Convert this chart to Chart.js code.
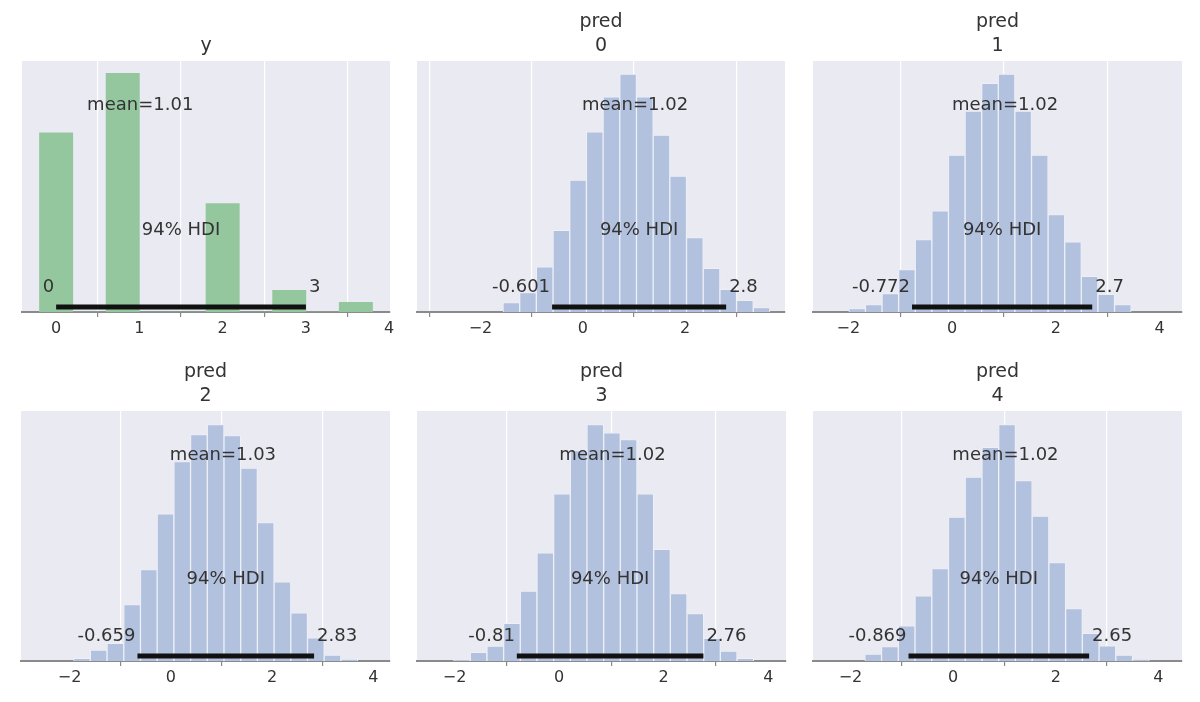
<!DOCTYPE html>
<html lang="en">
<head>
    <meta charset="UTF-8">
    <title>Posterior predictive</title>
    <script src="https://cdn.jsdelivr.net/npm/chart.js@4"></script>
    <style>
        body { margin: 0; background: #ffffff; width: 1200px; height: 702px; position: relative; overflow: hidden; }
        .panel { position: absolute; }
    </style>
</head>
<body>
    <canvas id="c0" class="panel"></canvas>
    <canvas id="c1" class="panel"></canvas>
    <canvas id="c2" class="panel"></canvas>
    <canvas id="c3" class="panel"></canvas>
    <canvas id="c4" class="panel"></canvas>
    <canvas id="c5" class="panel"></canvas>

    <script>
        // histogram heights (arbitrary units, panel top = 752)
        const yCounts     = [537, 0, 715, 0, 0, 325, 0, 65, 0, 29];
        const pred0Counts = [28, 58, 135, 245, 395, 540, 645, 713, 645, 530, 407, 223, 131, 68, 35, 13];
        const pred1Counts = [10, 22, 55, 127, 217, 303, 470, 602, 685, 713, 602, 470, 292, 210, 107, 53, 22];
        const pred2Counts = [8, 33, 53, 170, 275, 443, 600, 681, 711, 678, 580, 416, 238, 145, 70, 18, 5];
        const pred3Counts = [3, 26, 45, 113, 210, 325, 503, 633, 711, 686, 666, 503, 336, 203, 143, 68, 30, 8];
        const pred4Counts = [21, 43, 106, 196, 278, 433, 553, 643, 711, 543, 436, 296, 158, 83, 46, 18, 5];

        // bin start / width
        const binStarts = [-0.2, -1.56, -1.99, -1.92, -2.02, -1.72];
        const binWidths = [0.4, 0.326, 0.32, 0.33, 0.319, 0.326];

        const titles = [['y'], ['pred', '0'], ['pred', '1'], ['pred', '2'], ['pred', '3'], ['pred', '4']];
        const means = [1.01, 1.02, 1.02, 1.03, 1.02, 1.02];
        const hdiLow = [0, -0.601, -0.772, -0.659, -0.81, -0.869];
        const hdiHigh = [3, 2.8, 2.7, 2.83, 2.76, 2.65];
        const hdiLowText = ['0', '-0.601', '-0.772', '-0.659', '-0.81', '-0.869'];
        const hdiHighText = ['3', '2.8', '2.7', '2.83', '2.76', '2.65'];
        const xMins = [-0.41, -3.24, -2.68, -2.96, -2.72, -2.73];
        const xMaxs = [4.01, 3.95, 4.43, 4.33, 4.34, 4.46];
        const yTicks = [0, 1, 2, 3, 4];
        const predTicks = [-2, 0, 2, 4];

        const allCounts = [yCounts, pred0Counts, pred1Counts, pred2Counts, pred3Counts, pred4Counts];

        // panel boxes: plot area left, right, top, bottom
        const boxes = [
            [22, 390, 61, 312], [417, 785, 61, 312], [813, 1182, 61, 312],
            [21, 390, 411, 661], [417, 786, 411, 661], [813, 1182, 411, 661]
        ];

        const FONT = "'DejaVu Sans', Verdana, sans-serif";
        const TXT = '#333333';
        const YMAX = 752;
        const PAD = 20;

        const decor = {
            id: 'decor',
            beforeDraw(chart) {
                const a = chart.chartArea, ctx = chart.ctx;
                ctx.save();
                ctx.fillStyle = '#eaeaf2';
                ctx.fillRect(a.left, a.top, a.right - a.left, a.bottom - a.top);
                ctx.restore();
            },
            afterDatasetsDraw(chart, args, opts) {
                const i = opts.idx, ctx = chart.ctx, a = chart.chartArea;
                const xs = chart.scales.x, ys = chart.scales.y;
                ctx.save();
                ctx.fillStyle = TXT;
                ctx.font = '18px ' + FONT;
                ctx.textBaseline = 'middle';
                ctx.textAlign = 'center';
                ctx.fillText('mean=' + means[i], xs.getPixelForValue(means[i]), ys.getPixelForValue(620));
                ctx.fillText('94% HDI', xs.getPixelForValue((hdiLow[i] + hdiHigh[i]) / 2), ys.getPixelForValue(245));
                ctx.textAlign = 'right';
                ctx.fillText(hdiLowText[i], xs.getPixelForValue(hdiLow[i]) - 2, ys.getPixelForValue(75));
                ctx.textAlign = 'left';
                ctx.fillText(hdiHighText[i], xs.getPixelForValue(hdiHigh[i]) + 3, ys.getPixelForValue(75));
                // titles
                ctx.textAlign = 'center';
                ctx.font = '19px ' + FONT;
                const cx = (a.left + a.right) / 2;
                const t = titles[i];
                if (t.length === 1) {
                    ctx.fillText(t[0], cx, a.top - 15);
                } else {
                    ctx.fillText(t[0], cx, a.top - 39);
                    ctx.fillText(t[1], cx, a.top - 15);
                }
                ctx.restore();
            }
        };

        boxes.forEach((b, i) => {
            const cv = document.getElementById('c' + i);
            const top = i < 3 ? 0 : 350;
            const w = (b[1] - b[0]) + 2 * PAD;
            const h = b[3] - top + 33;
            cv.style.left = (b[0] - PAD) + 'px';
            cv.style.top = top + 'px';
            cv.style.width = w + 'px';
            cv.style.height = h + 'px';
            cv.width = w;
            cv.height = h;

            const counts = allCounts[i];
            const bars = counts.map((c, k) => ({ x: binStarts[i] + binWidths[i] * (k + 0.5), y: c }));
            const green = i === 0;
            const tickList = (i === 0 ? yTicks : predTicks).filter(v => v >= xMins[i] && v <= xMaxs[i]);

            new Chart(cv.getContext('2d'), {
                data: {
                    datasets: [
                        {
                            type: 'line',
                            data: [{ x: hdiLow[i], y: 15 }, { x: hdiHigh[i], y: 15 }],
                            borderColor: '#111111',
                            borderWidth: 5,
                            pointRadius: 0,
                            order: 0
                        },
                        {
                            type: 'bar',
                            data: bars,
                            backgroundColor: green ? '#95c79f' : '#b2c1de',
                            borderColor: green ? 'rgba(0,0,0,0)' : '#eef0f7',
                            borderWidth: green ? 0 : 1,
                            barPercentage: 1,
                            categoryPercentage: 1,
                            grouped: false,
                            order: 1
                        }
                    ]
                },
                options: {
                    responsive: false,
                    animation: false,
                    devicePixelRatio: 1,
                    layout: { padding: { top: b[2] - top, left: PAD, right: PAD, bottom: 0 } },
                    plugins: {
                        legend: { display: false },
                        tooltip: { enabled: false },
                        decor: { idx: i }
                    },
                    scales: {
                        x: {
                            type: 'linear',
                            min: xMins[i],
                            max: xMaxs[i],
                            offset: false,
                            afterFit(scale) { scale.height = 33; },
                            afterBuildTicks(scale) { scale.ticks = tickList.map(v => ({ value: v })); },
                            ticks: {
                                color: TXT,
                                font: { family: FONT, size: 16 },
                                padding: 2,
                                maxRotation: 0,
                                autoSkip: false,
                                callback: v => (v < 0 ? '\u2212' + Math.abs(v) : String(v))
                            },
                            grid: {
                                color: '#ffffff',
                                lineWidth: 1.2,
                                tickColor: '#8a8a8a',
                                tickLength: 5,
                                drawTicks: true
                            },
                            border: { color: '#8a8a8a', width: 2 }
                        },
                        y: {
                            display: false,
                            min: 0,
                            max: YMAX
                        }
                    }
                },
                plugins: [decor]
            });
        });
    </script>
</body>
</html>
